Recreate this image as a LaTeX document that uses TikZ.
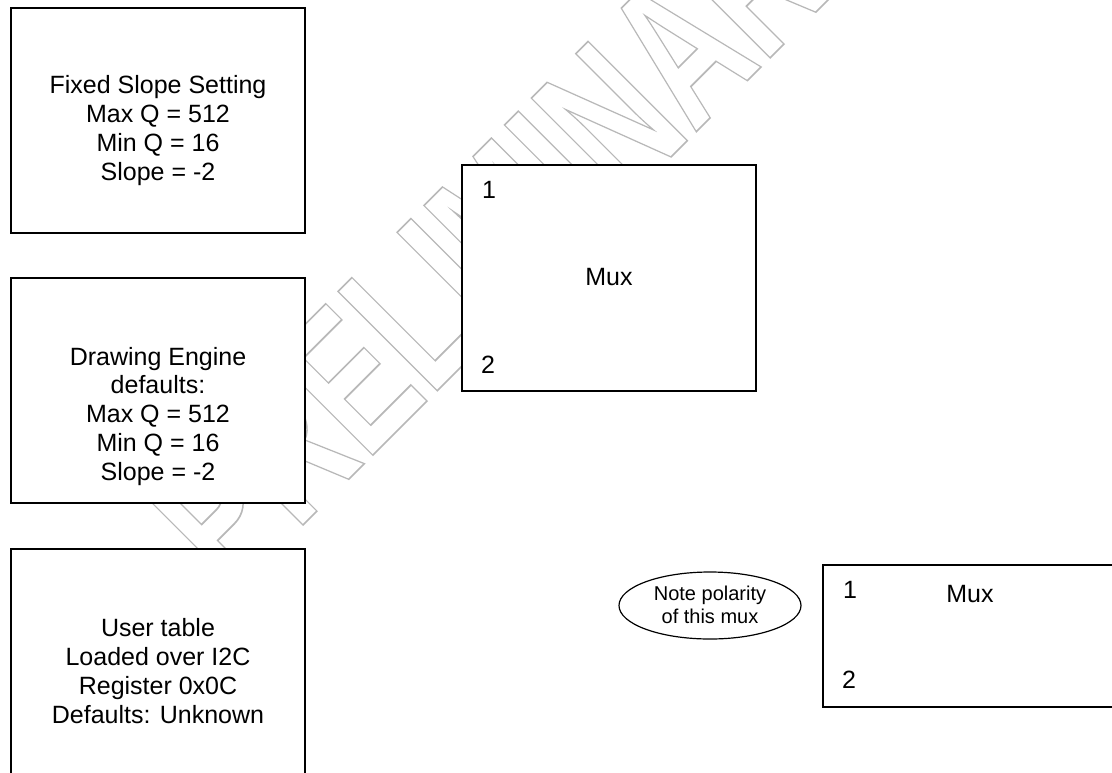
\documentclass[tikz,border=0pt]{standalone}
\usepackage{fontspec}
\usetikzlibrary{shapes.geometric}
\setmainfont{Liberation Sans}
\definecolor{wmgray}{gray}{0.72}
\newcommand{\strokedtext}[1]{\special{pdf:literal direct 1 Tr 1.7 w}#1\special{pdf:literal direct 0 Tr}}
\tikzset{
  blk/.style={draw=black, line width=1.5pt, fill=white, inner sep=0pt},
  bigbox/.style={blk, minimum width=294pt, minimum height=225pt},
  muxbox/.style={blk, minimum width=294pt},
  boxtxt/.style={font=\fontsize{25}{28.7}\selectfont, align=center, inner sep=0pt, anchor=base},
  pin/.style={font=\fontsize{25}{29}\selectfont, inner sep=0pt, anchor=base west},
  notetxt/.style={font=\fontsize{20}{23.5}\selectfont, align=center, inner sep=0pt, anchor=base},
  wm/.style={text=wmgray, font=\fontsize{204}{204}\bfseries\selectfont, inner sep=0pt, anchor=base west, rotate=45, xscale=0.67}
}
\begin{document}
\begin{tikzpicture}[x=1pt,y=-1pt]
\useasboundingbox (0,0) rectangle (1112,772);
\clip (0,0) rectangle (1112,772);
\fill[white] (0,0) rectangle (1112,772);
% watermark
\node[wm] (watermark) at (232,596) {\strokedtext{PRELIMINARY}};
% left boxes (text anchored at the baseline of its last line)
\node[bigbox] (fixed) at (158,120.5) {};
\node[boxtxt] (fixedtxt) at (158,180) {Fixed Slope Setting\\Max Q = 512\\Min Q = 16\\Slope = -2};
\node[bigbox] (engine) at (158,390.5) {};
\node[boxtxt] (enginetxt) at (158,480) {Drawing Engine\\defaults:\\Max Q = 512\\Min Q = 16\\Slope = -2};
\node[bigbox] (user) at (158,661.5) {};
\node[boxtxt] (usertxt) at (158,723) {User table\\Loaded over I2C\\Register 0x0C\\Defaults: Unknown};
% mux 1
\node[muxbox, minimum height=226pt] (mux1) at (609,278) {};
\node[boxtxt] (mux1txt) at (609,285) {Mux};
\node[pin] (mux1a) at (482,198) {1};
\node[pin] (mux1b) at (481,373) {2};
% mux 2
\node[muxbox, minimum height=142pt] (mux2) at (970,636) {};
\node[boxtxt] (mux2txt) at (970,602) {Mux};
\node[pin] (mux2a) at (843,598) {1};
\node[pin] (mux2b) at (842,688) {2};
% note
\node[draw=black, line width=1.2pt, fill=white, ellipse, minimum width=182pt, minimum height=67pt, inner sep=0pt] (note) at (710,605.5) {};
\node[notetxt] (notetxt) at (710,623.5) {Note polarity\\of this mux};
\end{tikzpicture}
\end{document}
